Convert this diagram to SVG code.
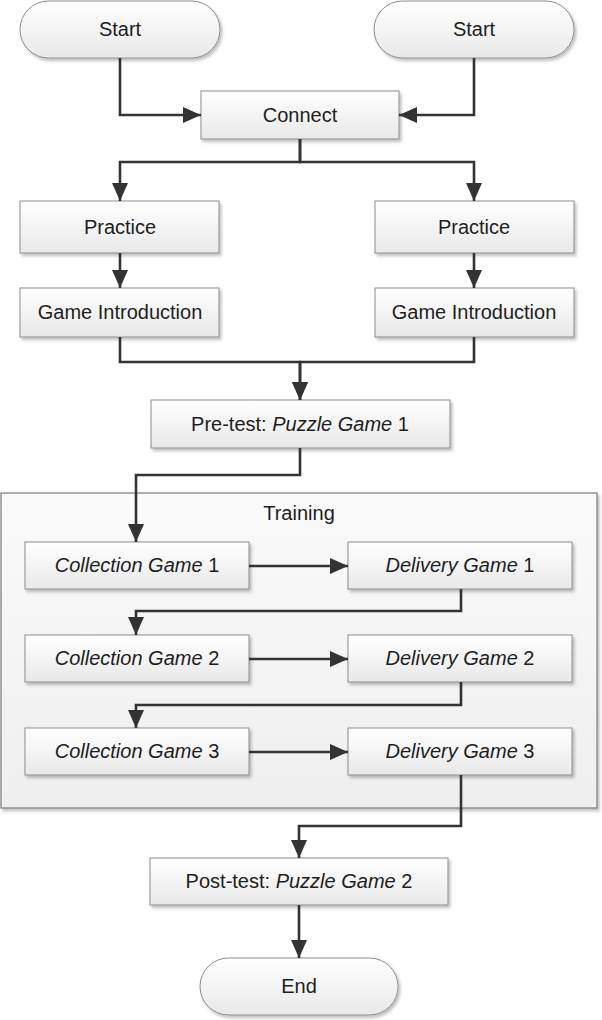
<svg xmlns="http://www.w3.org/2000/svg" width="602" height="1020" viewBox="0 0 602 1020">
<defs>
<linearGradient id="g" x1="0" y1="0" x2="0" y2="1"><stop offset="0" stop-color="#ffffff"/><stop offset="1" stop-color="#e9e9e9"/></linearGradient>
<linearGradient id="gc" x1="0" y1="0" x2="0" y2="1"><stop offset="0" stop-color="#fafafa"/><stop offset="1" stop-color="#efefef"/></linearGradient>
<filter id="sh" x="-5%" y="-10%" width="115%" height="130%"><feDropShadow dx="2" dy="2.5" stdDeviation="1.5" flood-color="#000" flood-opacity="0.25"/></filter>
<marker id="ah" viewBox="0 0 18 16" refX="18" refY="8" markerWidth="18" markerHeight="16" markerUnits="userSpaceOnUse" orient="auto"><path d="M0,0 L18,8 L0,16 z" fill="#333"/></marker>
<style>
.n{fill:url(#g);stroke:#8c8c8c;stroke-width:1;filter:url(#sh)}
.c{fill:url(#gc);stroke:#7a7a7a;stroke-width:1.2;filter:url(#sh)}
.t{font-family:"Liberation Sans",Arial,sans-serif;font-size:20px;fill:#1e1e1e;text-anchor:middle}
.i{font-style:italic}
.e{fill:none;stroke:#333;stroke-width:2.6;marker-end:url(#ah)}
</style>
</defs>
<g id="training">
<rect class="c" x="1" y="493" width="596" height="315"/>
<text class="t" x="299" y="520">Training</text>
</g>
<g id="start1"><rect class="n" x="20" y="1" width="200" height="57" rx="28.5"/><text class="t" x="120" y="36">Start</text></g>
<g id="start2"><rect class="n" x="374" y="1" width="200" height="57" rx="28.5"/><text class="t" x="474" y="36">Start</text></g>
<g id="connect"><rect class="n" x="201" y="91" width="198" height="48"/><text class="t" x="300" y="122">Connect</text></g>
<g id="practice1"><rect class="n" x="20" y="201" width="199" height="52"/><text class="t" x="120" y="234">Practice</text></g>
<g id="practice2"><rect class="n" x="375" y="201" width="199" height="52"/><text class="t" x="474" y="234">Practice</text></g>
<g id="intro1"><rect class="n" x="20" y="288" width="199" height="49"/><text class="t" x="120" y="319">Game Introduction</text></g>
<g id="intro2"><rect class="n" x="375" y="288" width="199" height="49"/><text class="t" x="474" y="319">Game Introduction</text></g>
<g id="pretest"><rect class="n" x="151" y="400" width="299" height="48"/><text class="t" x="300" y="431">Pre-test: <tspan class="i">Puzzle Game</tspan> 1</text></g>
<g id="coll1"><rect class="n" x="25" y="542" width="224" height="47"/><text class="t" x="137" y="572"><tspan class="i">Collection Game</tspan> 1</text></g>
<g id="del1"><rect class="n" x="348" y="542" width="224" height="47"/><text class="t" x="460" y="572"><tspan class="i">Delivery Game</tspan> 1</text></g>
<g id="coll2"><rect class="n" x="25" y="635" width="224" height="47"/><text class="t" x="137" y="665"><tspan class="i">Collection Game</tspan> 2</text></g>
<g id="del2"><rect class="n" x="348" y="635" width="224" height="47"/><text class="t" x="460" y="665"><tspan class="i">Delivery Game</tspan> 2</text></g>
<g id="coll3"><rect class="n" x="25" y="728" width="224" height="47"/><text class="t" x="137" y="758"><tspan class="i">Collection Game</tspan> 3</text></g>
<g id="del3"><rect class="n" x="348" y="728" width="224" height="47"/><text class="t" x="460" y="758"><tspan class="i">Delivery Game</tspan> 3</text></g>
<g id="posttest"><rect class="n" x="150" y="858" width="298" height="47"/><text class="t" x="299" y="888">Post-test: <tspan class="i">Puzzle Game</tspan> 2</text></g>
<g id="end"><rect class="n" x="200" y="958" width="198" height="57" rx="28.5"/><text class="t" x="299" y="993">End</text></g>
<g id="connectors">
<path class="e" d="M120,58 V115 H201"/>
<path class="e" d="M474,58 V115 H399"/>
<path class="e" d="M300,139 V162 H120 V201"/>
<path class="e" d="M300,139 V162 H474 V201"/>
<path class="e" d="M120,253 V288"/>
<path class="e" d="M474,253 V288"/>
<path class="e" d="M120,337 V362 H300 V400"/>
<path class="e" d="M474,337 V362 H300 V400"/>
<path class="e" d="M300,448 V475 H136 V542"/>
<path class="e" d="M249,566 H348"/>
<path class="e" d="M461,589 V611 H136 V635"/>
<path class="e" d="M249,659 H348"/>
<path class="e" d="M461,682 V705 H136 V728"/>
<path class="e" d="M249,752 H348"/>
<path class="e" d="M461,775 V826 H299 V858"/>
<path class="e" d="M299,905 V958"/>
</g>
</svg>
